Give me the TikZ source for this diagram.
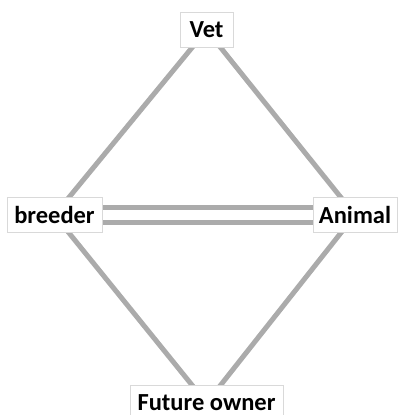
\documentclass[tikz,border=0pt]{standalone}
\usepackage{fontspec}
\setmainfont{Carlito}
\definecolor{linegray}{HTML}{ABABAB}
\definecolor{boxgray}{HTML}{D9D9D9}
\pgfdeclarelayer{background}
\pgfsetlayers{background,main}
\begin{document}
\begin{tikzpicture}[x=1pt,y=-1pt,
  box/.style={draw=boxgray, line width=0.8pt, fill=white, inner sep=0pt, font=\fontsize{24.5}{27}\selectfont\bfseries, minimum height=35pt},
  link/.style={draw=linegray, line width=5pt}]
\useasboundingbox (0,0) rectangle (398,415);
\node[box, minimum width=53pt] (vet) at (206.5,30) {Vet};
\node[box, minimum width=95pt] (breeder) at (54.5,215) {breeder};
\node[box, minimum width=84pt] (animal) at (355,215) {Animal};
\node[box, minimum width=153pt] (owner) at (206.5,403) {Future owner};
\begin{pgfonlayer}{background}
\draw[link] (vet.center) -- (breeder.center);
\draw[link] (vet.center) -- (animal.center);
\draw[link] (breeder.center) -- (owner.center);
\draw[link] (animal.center) -- (owner.center);
\draw[draw=linegray, line width=5.5pt, double=white, double distance=9.5pt] (breeder.east) -- (animal.west);
\end{pgfonlayer}
\end{tikzpicture}
\end{document}
